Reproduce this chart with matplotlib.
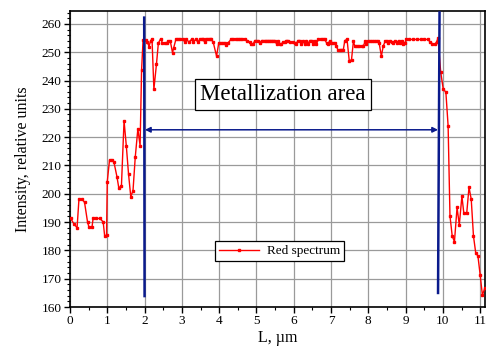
import numpy as np
import matplotlib
matplotlib.use("Agg")
import matplotlib.pyplot as plt
from matplotlib.ticker import MultipleLocator

plt.rcParams['font.family'] = ['Liberation Serif', 'DejaVu Serif']

# Red spectrum (L in um, intensity)
L = [0.02, 0.10, 0.19, 0.24, 0.33, 0.39, 0.47, 0.51, 0.59, 0.62, 0.70, 0.80, 0.89, 0.93, 0.98,
     1.00, 1.06, 1.14, 1.18, 1.26, 1.31, 1.38, 1.45, 1.51, 1.57, 1.63, 1.69, 1.75, 1.82, 1.88,
     1.92, 1.96, 2.03, 2.07, 2.12, 2.16, 2.20, 2.25, 2.32, 2.37,
     2.43, 2.48, 2.54, 2.59, 2.64, 2.69, 2.75, 2.78, 2.84, 2.89, 2.94, 3.03, 3.08, 3.12, 3.19,
     3.26, 3.30, 3.37, 3.43, 3.48, 3.53, 3.57, 3.61, 3.66, 3.71, 3.75, 3.79, 3.84, 3.93, 3.99,
     4.06, 4.10, 4.15, 4.19, 4.24, 4.33, 4.38, 4.44, 4.50, 4.56, 4.62, 4.69,
     4.75, 4.82, 4.85, 4.91, 4.96, 5.05, 5.09, 5.14, 5.22, 5.28, 5.34, 5.40, 5.45, 5.49, 5.54,
     5.58, 5.63, 5.67, 5.72, 5.76, 5.80, 5.85, 5.90, 5.98, 6.03, 6.07, 6.11, 6.16, 6.20, 6.25,
     6.29, 6.34, 6.38, 6.43, 6.48, 6.52, 6.56, 6.61, 6.66, 6.72, 6.78, 6.83, 6.88, 6.92, 6.97,
     7.01, 7.06, 7.10, 7.14, 7.19, 7.24,
     7.28, 7.33, 7.37, 7.43, 7.49, 7.55, 7.60, 7.64, 7.70, 7.76, 7.82, 7.87, 7.91, 7.95, 8.00,
     8.05, 8.10, 8.16, 8.21, 8.26, 8.29, 8.35, 8.40, 8.45, 8.49, 8.53, 8.58, 8.63, 8.67, 8.71,
     8.76, 8.81, 8.85, 8.90, 8.94, 8.98, 9.02, 9.10, 9.20, 9.30, 9.40, 9.50, 9.61, 9.65, 9.72,
     9.79, 9.83, 9.87,
     9.94, 10.01, 10.08, 10.14, 10.19, 10.25, 10.31, 10.38, 10.44, 10.51, 10.56, 10.64, 10.70,
     10.76, 10.82, 10.88, 10.94, 11.00, 11.06, 11.12]
I = [191.3, 189.5, 188.0, 198.0, 198.0, 197.0, 190.1, 188.2, 188.2, 191.3, 191.3, 191.3, 190.1, 185.1, 185.4,
     204.3, 211.9, 211.9, 211.1, 206.0, 202.0, 202.9, 225.8, 217.0, 207.0, 199.0, 201.1, 212.9, 222.9, 217.0,
     243.7, 254.3, 254.3, 253.7, 252.0, 254.0, 254.6, 236.9, 245.9, 253.2,
     254.7, 253.3, 253.3, 253.3, 253.9, 253.9, 249.8, 251.5, 254.5, 254.5, 254.5, 254.5, 253.6, 254.5, 253.6,
     254.5, 253.6, 254.5, 253.6, 254.5, 254.5, 254.5, 253.6, 254.5, 254.5, 254.5, 254.5, 253.6, 248.6, 253.3,
     253.3, 253.3, 253.3, 252.7, 253.3, 254.7, 254.7, 254.7, 254.7, 254.7, 254.7, 254.7,
     254.1, 253.6, 252.9, 252.9, 254.1, 254.1, 253.3, 254.1, 254.1, 254.1, 254.1, 254.1, 254.1, 254.1, 252.9,
     254.1, 252.9, 252.9, 253.6, 253.6, 254.1, 254.1, 253.6, 253.6, 253.3, 252.9, 254.1, 254.1, 252.9, 254.1,
     252.9, 254.1, 252.9, 254.1, 254.1, 252.9, 254.1, 252.9, 254.5, 254.5, 254.5, 254.5, 253.3, 252.9, 254.1,
     253.3, 253.3, 253.3, 252.1, 250.7, 250.7,
     250.9, 250.9, 254.1, 254.5, 246.8, 247.4, 253.8, 252.1, 252.1, 252.1, 252.1, 252.1, 253.8, 252.9, 253.8,
     253.8, 253.8, 253.8, 253.8, 253.8, 253.3, 248.6, 252.1, 253.8, 253.8, 253.3, 254.1, 253.6, 253.3, 254.1,
     253.3, 254.1, 253.3, 254.1, 252.9, 253.3, 254.5, 254.5, 254.5, 254.5, 254.5, 254.5, 254.5, 253.6, 253.0,
     252.9, 253.6, 255.0,
     243.1, 236.9, 235.9, 224.0, 192.2, 185.1, 183.1, 195.2, 189.0, 199.2, 193.3, 193.3, 202.3,
     198.1, 185.1, 179.2, 178.0, 171.3, 164.2, 166.6]

# Boundaries of the metallization area
left_x = [1.99, 2.00]
left_y = [262.2, 163.9]
right_x = [9.91, 9.87]
right_y = [264.0, 165.0]
arrow_x = [2.01, 9.87]
arrow_y = 222.6

fig = plt.figure(figsize=(4.86, 3.49), dpi=100)
ax = fig.add_axes([0.144, 0.120, 0.854, 0.849])

ax.grid(True, which='major', color='#9a9a9a', lw=0.9)
ax.set_axisbelow(True)

ax.plot(L, I, color='red', lw=1.0, marker='s', ms=1.6, label='Red spectrum', zorder=3)
ax.plot(left_x, left_y, color='#0a1a8c', lw=1.8, zorder=4)
ax.plot(right_x, right_y, color='#0a1a8c', lw=1.8, zorder=4)
ax.annotate('', xy=(arrow_x[1], arrow_y), xytext=(arrow_x[0], arrow_y),
            arrowprops=dict(arrowstyle='<|-|>', color='#0a1a8c', lw=1.1,
                            mutation_scale=8, shrinkA=0, shrinkB=0), zorder=4)

ax.text(5.71, 234.9, 'Metallization area', fontsize=16.5, ha='center', va='center',
        bbox=dict(boxstyle='square,pad=0.22', fc='white', ec='black', lw=0.9), zorder=5)

leg = ax.legend(loc='center', bbox_to_anchor=(0.505, 0.189), fontsize=9.5,
                frameon=True, fancybox=False, edgecolor='black', framealpha=1,
                handlelength=3, borderpad=0.3, handletextpad=0.6)
leg.get_frame().set_linewidth(0.9)

ax.set_xlim(0, 11.13)
ax.set_ylim(160, 264.6)
ax.xaxis.set_major_locator(MultipleLocator(1))
ax.xaxis.set_minor_locator(MultipleLocator(0.5))
ax.yaxis.set_major_locator(MultipleLocator(10))
ax.yaxis.set_minor_locator(MultipleLocator(2))
ax.tick_params(which='major', direction='out', length=4, width=1, labelsize=9.5, pad=2)
ax.tick_params(which='minor', direction='out', length=2, width=0.8)
for s in ax.spines.values():
    s.set_linewidth(1.2)

ax.set_xlabel('L, µm', fontsize=11.5, labelpad=2)
ax.set_ylabel('Intensity, relative units', fontsize=11.5, labelpad=8)

fig.savefig('out.png', dpi=100)
